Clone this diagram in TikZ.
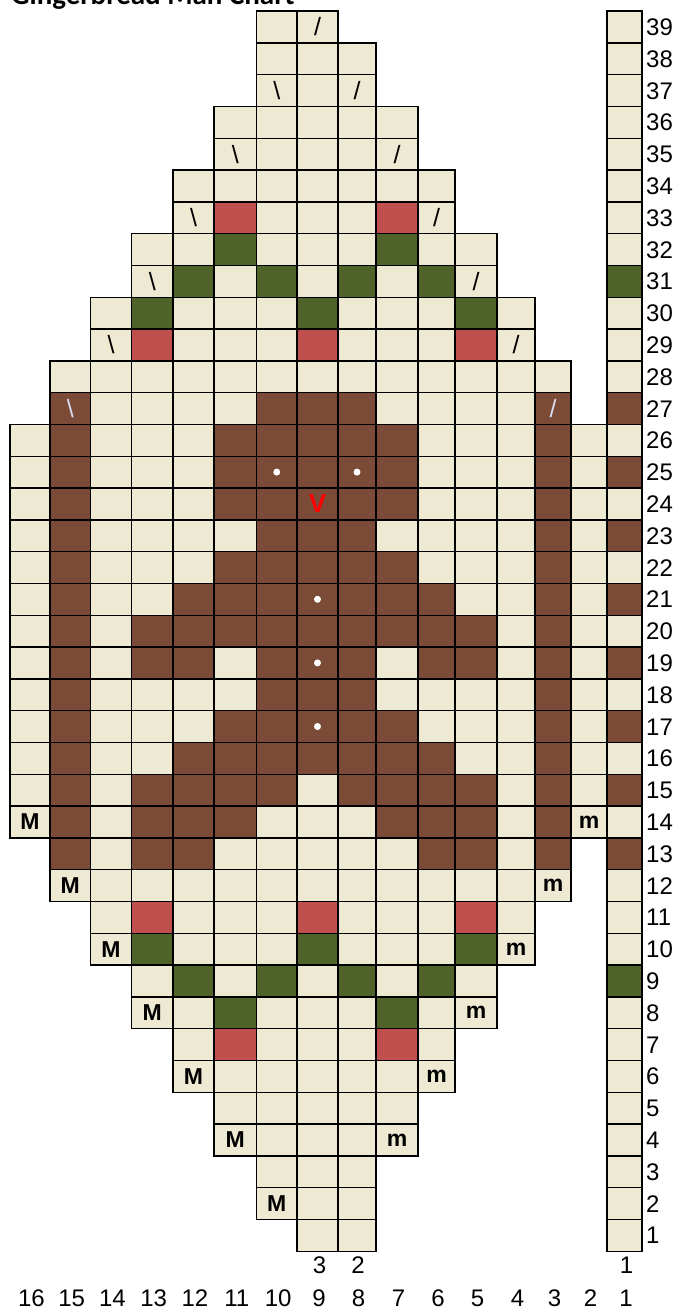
\documentclass[tikz,border=0pt]{standalone}
\usepackage{fontspec}
\setmainfont{Liberation Sans}
\newfontfamily\titlefont{Carlito}
\definecolor{col-c}{HTML}{EEE9D3}
\definecolor{col-b}{HTML}{7B4B37}
\definecolor{col-r}{HTML}{C0504D}
\definecolor{col-g}{HTML}{4F6228}
\definecolor{slashlight}{HTML}{D8DCF0}
\def\XL{{0,607,571,535,497,455,418,376,338,297,256.5,214,173,131.5,90.5,50,10}}
\def\XR{{0,642,607,571,535,497,455,418,376,338,297,256.5,214,173,131.5,90.5,50}}
\begin{document}
\begin{tikzpicture}[x=1pt,y=-1pt,
  cell/.style={rectangle,draw=black,line width=1.4pt,inner sep=0pt,outer sep=0pt,minimum height=31.8pt},
  lab/.style={font=\fontsize{24}{24}\selectfont,inner sep=0pt},
  mk/.style={font=\bfseries\fontsize{23}{23}\selectfont,inner sep=0pt},
  sl/.style={font=\fontsize{25}{25}\selectfont,inner sep=0pt,text=black},
  sllight/.style={sl,text=slashlight},
  eye/.style={circle,fill=white,inner sep=0pt,minimum size=7pt},
  vmark/.style={font=\bfseries\fontsize{26}{26}\selectfont,inner sep=0pt,text=red}]
\useasboundingbox (0,0) rectangle (675,1310);
\fill[white] (0,0) rectangle (675,1310);
\node[anchor=base west,font=\titlefont\bfseries\fontsize{29}{29}\selectfont,inner sep=0pt] (title) at (11,4) {Gingerbread Man Chart};
\foreach \r/\row in {
39/{.,.,.,.,.,.,c,c,.,.,.,.,.,.,.,c},
38/{.,.,.,.,.,.,c,c,c,.,.,.,.,.,.,c},
37/{.,.,.,.,.,.,c,c,c,.,.,.,.,.,.,c},
36/{.,.,.,.,.,c,c,c,c,c,.,.,.,.,.,c},
35/{.,.,.,.,.,c,c,c,c,c,.,.,.,.,.,c},
34/{.,.,.,.,c,c,c,c,c,c,c,.,.,.,.,c},
33/{.,.,.,.,c,r,c,c,c,r,c,.,.,.,.,c},
32/{.,.,.,c,c,g,c,c,c,g,c,c,.,.,.,c},
31/{.,.,.,c,g,c,g,c,g,c,g,c,.,.,.,g},
30/{.,.,c,g,c,c,c,g,c,c,c,g,c,.,.,c},
29/{.,.,c,r,c,c,c,r,c,c,c,r,c,.,.,c},
28/{.,c,c,c,c,c,c,c,c,c,c,c,c,c,.,c},
27/{.,b,c,c,c,c,b,b,b,c,c,c,c,b,.,b},
26/{c,b,c,c,c,b,b,b,b,b,c,c,c,b,c,c},
25/{c,b,c,c,c,b,b,b,b,b,c,c,c,b,c,b},
24/{c,b,c,c,c,b,b,b,b,b,c,c,c,b,c,c},
23/{c,b,c,c,c,c,b,b,b,c,c,c,c,b,c,b},
22/{c,b,c,c,c,b,b,b,b,b,c,c,c,b,c,c},
21/{c,b,c,c,b,b,b,b,b,b,b,c,c,b,c,b},
20/{c,b,c,b,b,b,b,b,b,b,b,b,c,b,c,c},
19/{c,b,c,b,b,c,b,b,b,c,b,b,c,b,c,b},
18/{c,b,c,c,c,c,b,b,b,c,c,c,c,b,c,c},
17/{c,b,c,c,c,b,b,b,b,b,c,c,c,b,c,b},
16/{c,b,c,c,b,b,b,b,b,b,b,c,c,b,c,c},
15/{c,b,c,b,b,b,b,c,b,b,b,b,c,b,c,b},
14/{c,b,c,b,b,b,c,c,c,b,b,b,c,b,c,c},
13/{.,b,c,b,b,c,c,c,c,c,b,b,c,b,.,b},
12/{.,c,c,c,c,c,c,c,c,c,c,c,c,c,.,c},
11/{.,.,c,r,c,c,c,r,c,c,c,r,c,.,.,c},
10/{.,.,c,g,c,c,c,g,c,c,c,g,c,.,.,c},
9/{.,.,.,c,g,c,g,c,g,c,g,c,.,.,.,g},
8/{.,.,.,c,c,g,c,c,c,g,c,c,.,.,.,c},
7/{.,.,.,.,c,r,c,c,c,r,c,.,.,.,.,c},
6/{.,.,.,.,c,c,c,c,c,c,c,.,.,.,.,c},
5/{.,.,.,.,.,c,c,c,c,c,.,.,.,.,.,c},
4/{.,.,.,.,.,c,c,c,c,c,.,.,.,.,.,c},
3/{.,.,.,.,.,.,c,c,c,.,.,.,.,.,.,c},
2/{.,.,.,.,.,.,c,c,c,.,.,.,.,.,.,c},
1/{.,.,.,.,.,.,.,c,c,.,.,.,.,.,.,c}}{
  \foreach \v [count=\i] in \row {
    \if\v.\else
      \pgfmathtruncatemacro\c{17-\i}
      \pgfmathsetmacro\xl{\XL[\c]}
      \pgfmathsetmacro\xr{\XR[\c]}
      \pgfmathsetmacro\yc{11+(39-\r)*31.8+15.9}
      \node[cell,fill=col-\v,minimum width={\xr-\xl}] (c\r-\c) at ({(\xl+\xr)/2},\yc) {};
    \fi
  }
  \pgfmathsetmacro\yb{11+(39-\r)*31.8+15.9+8.6}
  \node[lab,anchor=base west] (rl\r) at (646,\yb) {\r};
}
% bottom labels
\foreach \c in {1,...,16}{
  \pgfmathsetmacro\xl{\XL[\c]}
  \pgfmathsetmacro\xr{\XR[\c]}
  \node[lab,anchor=base] (bl\c) at ({(\xl+\xr)/2+1.5},1306.5) {\c};
}
\node[lab,anchor=base] (cn3) at ([xshift=2pt]c1-9.center |- 0,1273.5) {3};
\node[lab,anchor=base] (cn2) at ([xshift=1pt]c1-8.center |- 0,1273.5) {2};
\node[lab,anchor=base] (cn1) at ([xshift=2pt]c1-1.center |- 0,1273.5) {1};
% decreases
\node[sl] (s1) at (c39-9) {/};
\node[sl] (s2) at (c37-8) {/};
\node[sl] (s3) at (c35-7) {/};
\node[sl] (s4) at (c33-6) {/};
\node[sl] (s5) at (c31-5) {/};
\node[sl] (s6) at (c29-4) {/};
\node[sllight] (s7) at (c27-3) {/};
\node[sl] (b1) at (c37-10) {\textbackslash};
\node[sl] (b2) at (c35-11) {\textbackslash};
\node[sl] (b3) at (c33-12) {\textbackslash};
\node[sl] (b4) at (c31-13) {\textbackslash};
\node[sl] (b5) at (c29-14) {\textbackslash};
\node[sllight] (b6) at (c27-15) {\textbackslash};
% increases
\node[mk] (M1) at (c14-16) {M};
\node[mk] (M2) at (c12-15) {M};
\node[mk] (M3) at (c10-14) {M};
\node[mk] (M4) at (c8-13) {M};
\node[mk] (M5) at (c6-12) {M};
\node[mk] (M6) at (c4-11) {M};
\node[mk] (M7) at (c2-10) {M};
\node[mk] (m1) at (c14-2) {m};
\node[mk] (m2) at (c12-3) {m};
\node[mk] (m3) at (c10-4) {m};
\node[mk] (m4) at (c8-5) {m};
\node[mk] (m5) at (c6-6) {m};
\node[mk] (m6) at (c4-7) {m};
% face and buttons
\node[eye] (e1) at (c25-10) {};
\node[eye] (e2) at (c25-8) {};
\node[vmark] (mouth) at (c24-9) {V};
\node[eye] (d1) at (c21-9) {};
\node[eye] (d2) at (c19-9) {};
\node[eye] (d3) at (c17-9) {};
\end{tikzpicture}
\end{document}
